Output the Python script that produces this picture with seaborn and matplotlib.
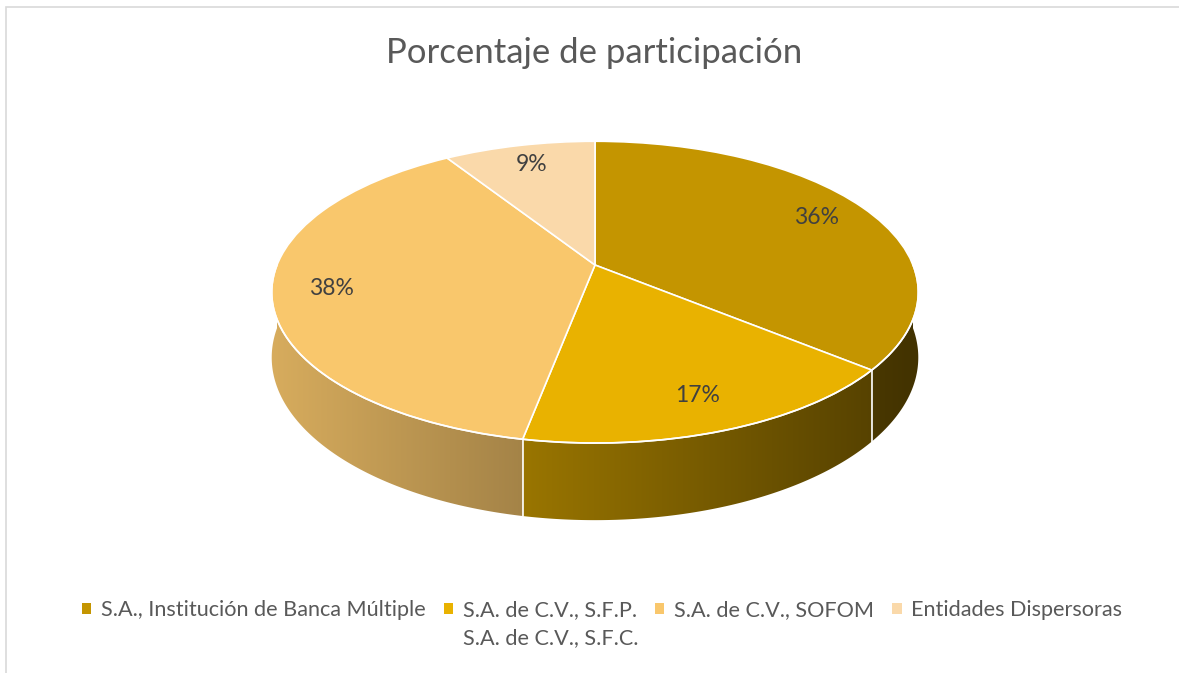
import numpy as np
import matplotlib
matplotlib.use("Agg")
import matplotlib.pyplot as plt
import matplotlib.transforms as mtransforms
import seaborn as sns
from matplotlib.patches import Patch, Rectangle, Polygon
from matplotlib import colors as mcolors

# data
categorias = ["S.A., Institución de Banca Múltiple",
              "S.A. de C.V., S.F.P.\nS.A. de C.V., S.F.C.",
              "S.A. de C.V., SOFOM",
              "Entidades Dispersoras"]
porcentajes = [36, 17, 38, 9]
colores = ["#C49500", "#E9B200", "#F9C76C", "#FAD9AA"]
titulo = "Porcentaje de participación"

sns.set_theme(style="white")
plt.rcParams['font.family'] = ['Lato', 'DejaVu Sans']
gris = "#595959"
paleta = sns.color_palette(colores)


class Perspectiva(mtransforms.Transform):
    """tilted disc seen from the front: far side shrinks"""
    input_dims = output_dims = 2

    def __init__(self, k):
        super().__init__()
        self.k = k

    def transform_non_affine(self, pts):
        pts = np.asarray(pts, dtype=float)
        d = 1 + self.k * pts[:, 1]
        return np.column_stack([pts[:, 0] / d, pts[:, 1] / d])


k = 0.18
persp = Perspectiva(k)
alto = 0.433  # wall height in y units (before depth scaling)

W, H = 1179, 673
fig = plt.figure(figsize=(W / 100, H / 100), dpi=100)
fig.patch.set_facecolor("white")

# thin chart-area border
fig.add_artist(Rectangle((6 / W, -0.1), 1.2, 1 - 7 / H + 0.1, transform=fig.transFigure,
                         fill=False, edgecolor="#D9D9D9", lw=1.2))

# axes: x 318 px/unit, y 146 px/unit, disc centre at (595, 265)
sx, sy, cx, cy = 318, 146, 595, 265
xl, yt, yb = 1.1, 1.0, 1.9
ax = fig.add_axes([(cx - xl * sx) / W, 1 - (cy + yb * sy) / H, 2 * xl * sx / W, (yt + yb) * sy / H])

wedges, textos, autotextos = ax.pie(
    porcentajes, colors=paleta, startangle=90, counterclock=False,
    autopct='%1.0f%%', pctdistance=0.82,
    wedgeprops=dict(edgecolor="white", linewidth=1.2),
    textprops=dict(color="#404040", fontsize=16.5))
for w in wedges:
    w.set_transform(persp + ax.transData)
    w.set_zorder(3)
    w.set_clip_on(False)
for t in autotextos:
    t.set_position(persp.transform(np.array([t.get_position()]))[0])
    t.set_zorder(5)


def borde(ang):
    top = persp.transform(np.column_stack([np.cos(ang), np.sin(ang)]))
    bot = top.copy()
    bot[:, 1] -= alto / (1 + k * np.sin(ang))
    return top, bot


# side wall, shaded darker toward the right
frac = np.cumsum([0] + porcentajes) / sum(porcentajes)
gx = np.linspace(-xl, xl, 500)
for i, c in enumerate(colores):
    a_hi = 90 - frac[i] * 360
    a_lo = 90 - frac[i + 1] * 360
    lo, hi = max(a_lo, -180), min(a_hi, 0)
    if lo >= hi:
        continue
    top, bot = borde(np.radians(np.linspace(lo, hi, 200)))
    pared = Polygon(np.vstack([top, bot[::-1]]), closed=True, transform=ax.transData,
                    facecolor="none", edgecolor="none")
    ax.add_patch(pared)
    base = np.array(mcolors.to_rgb(c))
    grad = np.clip(base[None, :] * (0.60 - 0.26 * gx)[:, None], 0, 1)[None, :, :]
    im = ax.imshow(grad, extent=[-xl, xl, -yb, yt], aspect="auto", interpolation="bilinear",
                   zorder=1)
    im.set_clip_path(pared)

# white seams on the wall and along the front rim
for f in frac:
    a = np.radians(90 - f * 360)
    if np.sin(a) < 0:
        top, bot = borde(np.array([a]))
        ax.plot([top[0, 0], bot[0, 0]], [top[0, 1], bot[0, 1]], color="white", lw=1.2,
                zorder=2, clip_on=False)
top, _ = borde(np.radians(np.linspace(-180, 0, 300)))
ax.plot(top[:, 0], top[:, 1], color="white", lw=1.2, zorder=4, clip_on=False)

ax.set_aspect('auto')
ax.set_xlim(-xl, xl)
ax.set_ylim(-yb, yt)
ax.axis("off")

fig.text(0.5 + 5 / W, 1 - 53 / H, titulo, ha="center", va="center", fontsize=25, color=gris)

# legend, second label wraps under its own entry
etiquetas = [c.split("\n")[0] for c in categorias]
handles = [Patch(facecolor=p, edgecolor="none") for p in paleta]
leg = fig.legend(handles, etiquetas, loc="center", bbox_to_anchor=(602 / W, 1 - 610 / H),
                 ncol=4, frameon=False, fontsize=15.6, handlelength=0.42, handleheight=0.42,
                 handletextpad=0.45, columnspacing=0.85, labelcolor=gris)
fig.canvas.draw()
for i, c in enumerate(categorias):
    partes = c.split("\n")
    if len(partes) > 1:
        bb = leg.get_texts()[i].get_window_extent()
        fig.text(bb.x0 / W, (bb.y0 - 28) / H, partes[1], fontsize=15.6, color=gris,
                 ha="left", va="bottom")

fig.savefig("out.png", dpi=100, facecolor="white")
